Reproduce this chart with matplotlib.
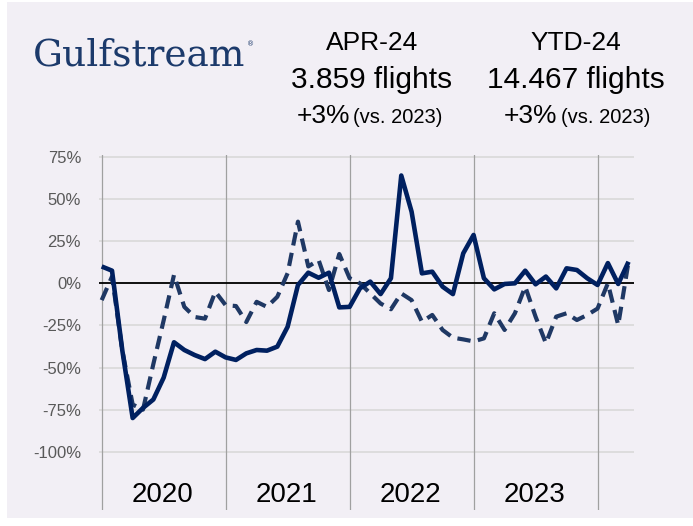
import matplotlib
matplotlib.use("Agg")
import matplotlib.pyplot as plt
from matplotlib.patches import Rectangle

# ---- data (monthly YoY change, Jan 2020 .. Apr 2024) ----
months = list(range(52))
solid_vals = [10, 7.5, -40, -80, -74, -69, -56, -35, -39.6, -42.6, -45, -40.6,
              -44, -45.5, -41.6, -39.6, -40, -37.6, -25.8, -1, 6.3, 3.3, 6.3, -14.3,
              -14, -3, 1, -6.4, 3, 64, 42.5, 5.9, 6.9, -2, -6.4, 17.8,
              28.7, 3, -3.6, -0.4, 0, 7.5, -0.6, 4, -3, 8.9, 7.9, 3,
              -1, 12, -0.4, 12.8]
dashed_vals = [-10, 4, -40, -72, -75, -48, -22, 5, -14, -20, -21, -5,
               -13, -13.5, -23, -11, -14, -8, 6, 36.6, 10, 13.8, -4, 17.4,
               3, 0, -6, -12, -15.4, -6, -10, -22.8, -18.8, -27.7, -32.3, -33.3,
               -34.5, -32.7, -17.8, -27.7, -17.8, -2, -19.8, -35.6, -19.8, -17.8, -21.8, -18.8,
               -15, 0, -24.8, 12.8]
year_starts = [0, 12, 24, 36, 48]
year_labels = ["2020", "2021", "2022", "2023"]
y_ticks = [-100, -75, -50, -25, 0, 25, 50, 75]
y_tick_labels = ["-100%", "-75%", "-50%", "-25%", "0%", "25%", "50%", "75%"]

W, H = 693, 526
fig = plt.figure(figsize=(W / 100, H / 100), dpi=100, facecolor="white")

bg = "#f2eff5"
fig.patches.append(Rectangle((7 / W, (H - 518) / H), (W - 7) / W, (518 - 2) / H,
                             transform=fig.transFigure, facecolor=bg,
                             edgecolor="none", zorder=-5))

def fx(px):
    return px / W

def fy(py):
    return 1 - py / H

ax = fig.add_axes([fx(99.1), fy(510), (633.7 - 99.1) / W, (510 - 155.3) / H])
ax.set_zorder(2)
ax.patch.set_alpha(0)
ax.set_xlim(-0.25, 51.5)
ax.set_ylim(-134.6, 76)
for s in ax.spines.values():
    s.set_visible(False)

for t in y_ticks:
    ax.axhline(t, color="#d9d9d9", lw=1.2, zorder=1)
for xs in year_starts:
    ax.axvline(xs, color="#a0a0a0", lw=0.9, zorder=1)
ax.axhline(0, color="black", lw=1.3, zorder=2)

ax.plot(months, dashed_vals, color="#1f3864", lw=3.0,
        linestyle=(0, (3.2, 1.8)), zorder=3, solid_joinstyle="round")
ax.plot(months, solid_vals, color="#002060", lw=3.3, zorder=4,
        solid_joinstyle="round", solid_capstyle="butt")

ax.set_yticks(y_ticks)
ax.set_yticklabels(y_tick_labels)
ax.set_xticks([])
ax.tick_params(axis="y", length=0, pad=13, labelsize=12, labelcolor="#595959")
for lab in ax.get_yticklabels():
    lab.set_fontfamily("Liberation Sans")

for xs, lab in zip(year_starts, year_labels):
    ax.text(xs + 5.9, -125.7, lab, ha="center", va="center", fontsize=20,
            color="black", family="Liberation Sans")

# ---- header ----
fig.text(fx(33), fy(65), "Gulfstream", family="DejaVu Serif", fontsize=27,
         color="#1c3a6b", ha="left", va="baseline")
fig.text(fx(247), fy(46), "®", family="DejaVu Sans", fontsize=5,
         color="#1c3a6b", ha="left", va="baseline")

hdr_font = "Liberation Sans"
for cx, title, flights, plus_r, vs_l in [
        (372, "APR-24", "3.859 flights", 350, 353),
        (576, "YTD-24", "14.467 flights", 557, 561)]:
    fig.text(fx(cx), fy(50), title, ha="center", va="baseline",
             fontsize=19, family=hdr_font, color="black")
    fig.text(fx(cx), fy(88), flights, ha="center", va="baseline",
             fontsize=21.5, family=hdr_font, color="black")
    fig.text(fx(plus_r), fy(123), "+3%", ha="right", va="baseline",
             fontsize=19, family=hdr_font, color="black")
    fig.text(fx(vs_l), fy(123), "(vs. 2023)", ha="left", va="baseline",
             fontsize=14.5, family=hdr_font, color="black")

fig.savefig("out.png", dpi=100, facecolor="white")
